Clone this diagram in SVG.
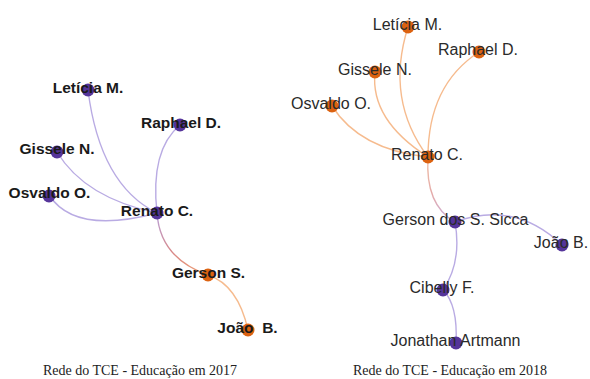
<svg xmlns="http://www.w3.org/2000/svg" width="590" height="379" viewBox="0 0 590 379">
<defs>
<style>
.e{fill:none;stroke-width:1.4}
.ep{stroke:#b9abe3}
.eo{stroke:#f6bb8e}
.np{fill:#55349a}
.no{fill:#dc6210}
.l1{font-family:"Liberation Sans",Arial,sans-serif;font-size:15.5px;font-weight:bold;fill:#1a1a1a;text-anchor:middle}
.l2{font-family:"Liberation Sans",Arial,sans-serif;font-size:16px;fill:#2a2a2a;text-anchor:middle}
.cap{font-family:"Liberation Serif","Times New Roman",serif;font-size:14px;fill:#222;text-anchor:middle}
</style>
<linearGradient id="g1" gradientUnits="userSpaceOnUse" x1="157" y1="213" x2="208" y2="275">
<stop offset="0" stop-color="#b9a0d8"/><stop offset="0.5" stop-color="#d88888"/><stop offset="1" stop-color="#f0a070"/>
</linearGradient>
<linearGradient id="g2" gradientUnits="userSpaceOnUse" x1="428" y1="157" x2="455" y2="222">
<stop offset="0" stop-color="#f0c0a8"/><stop offset="0.5" stop-color="#e4aaa8"/><stop offset="1" stop-color="#c8b0e0"/>
</linearGradient>
</defs>
<rect width="590" height="379" fill="#ffffff"/>
<g id="connectors">
<path class="e ep" d="M88,90 Q100,185 157,213"/>
<path class="e ep" d="M180,125 Q150,150 157,213"/>
<path class="e ep" d="M57,152 Q85,198 157,213"/>
<path class="e ep" d="M49,195 Q75,235 157,213"/>
<path class="e" stroke="url(#g1)" d="M157,213 Q160,258 208,275"/>
<path class="e eo" d="M208,275 Q238,285 248,330"/>
<path class="e eo" d="M408,27 Q385,100 428,157"/>
<path class="e eo" d="M479,52 Q428,85 428,157"/>
<path class="e eo" d="M375,72 Q370,120 428,157"/>
<path class="e eo" d="M332,106 Q360,150 428,157"/>
<path class="e" stroke="url(#g2)" d="M428,157 Q425,205 455,222"/>
<path class="e ep" d="M455,222 Q515,200 562,245"/>
<path class="e ep" d="M455,222 Q462,262 443,290"/>
<path class="e ep" d="M443,290 Q458,305 456,343"/>
</g>
<g id="n2017-leticia"><circle class="np" cx="88" cy="90" r="6.5"/><text class="l1" x="88" y="92.5">Letícia M.</text></g>
<g id="n2017-raphael"><circle class="np" cx="180" cy="125" r="6.5"/><text class="l1" x="181" y="127.5">Raphael D.</text></g>
<g id="n2017-gissele"><circle class="np" cx="57" cy="152" r="6.5"/><text class="l1" x="57" y="154">Gissele N.</text></g>
<g id="n2017-osvaldo"><circle class="np" cx="49" cy="196" r="6.5"/><text class="l1" x="49.5" y="197.5">Osvaldo O.</text></g>
<g id="n2017-renato"><circle class="np" cx="157" cy="213" r="6.5"/><text class="l1" x="157" y="215.5">Renato C.</text></g>
<g id="n2017-gerson"><circle class="no" cx="208" cy="275" r="6.5"/><text class="l1" x="208.5" y="277.5">Gerson S.</text></g>
<g id="n2017-joao"><circle class="no" cx="248" cy="330" r="6.5"/><text class="l1" x="247.5" y="332.5" xml:space="preserve">João  B.</text></g>
<g id="n2018-leticia"><circle class="no" cx="408" cy="27" r="6.5"/><text class="l2" x="407.5" y="29.5">Letícia M.</text></g>
<g id="n2018-raphael"><circle class="no" cx="479" cy="52" r="6.5"/><text class="l2" x="478" y="54.5">Raphael D.</text></g>
<g id="n2018-gissele"><circle class="no" cx="375" cy="72" r="6.5"/><text class="l2" x="375" y="74.5">Gissele N.</text></g>
<g id="n2018-osvaldo"><circle class="no" cx="332" cy="106" r="6.5"/><text class="l2" x="331" y="108.5">Osvaldo O.</text></g>
<g id="n2018-renato"><circle class="no" cx="428" cy="157" r="6.5"/><text class="l2" x="427" y="159.5">Renato C.</text></g>
<g id="n2018-gerson"><circle class="np" cx="455" cy="222" r="6.5"/><text class="l2" x="455.5" y="224.5">Gerson dos S. Sicca</text></g>
<g id="n2018-joao"><circle class="np" cx="562" cy="245" r="6.5"/><text class="l2" x="561" y="247.5">João B.</text></g>
<g id="n2018-cibelly"><circle class="np" cx="443" cy="290" r="6.5"/><text class="l2" x="442" y="292.5">Cibelly F.</text></g>
<g id="n2018-jonathan"><circle class="np" cx="456" cy="343" r="6.5"/><text class="l2" x="455.5" y="345.5">Jonathan Artmann</text></g>
<text class="cap" x="140" y="375">Rede do TCE - Educação em 2017</text>
<text class="cap" x="450" y="375">Rede do TCE - Educação em 2018</text>
</svg>
